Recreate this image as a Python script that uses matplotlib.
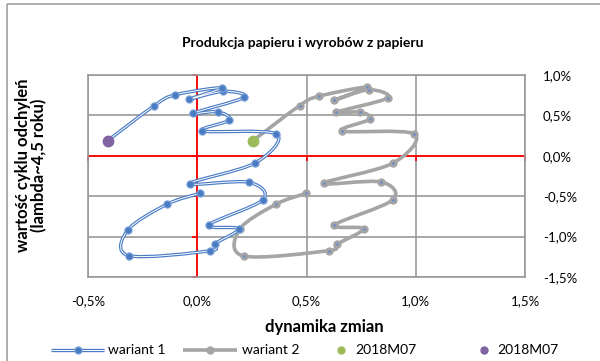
import numpy as np
import matplotlib
matplotlib.use("Agg")
import matplotlib.pyplot as plt
from matplotlib.path import Path
from matplotlib.patches import PathPatch, Rectangle

plt.rcParams['font.family'] = ['Lato', 'DejaVu Sans']

# ---- data (values in %) ----
w1_x = [0.014, -0.139, -0.319, -0.313, 0.057, 0.080, 0.189, 0.052, 0.301, 0.235, -0.035, 0.265,
        0.362, 0.024, 0.147, 0.093, -0.020, 0.215, 0.120, -0.037, 0.113, -0.101, -0.197, -0.410]
w1_y = [-0.464, -0.600, -0.922, -1.236, -1.176, -1.089, -0.903, -0.856, -0.543, -0.327, -0.344, -0.089,
        0.270, 0.307, 0.443, 0.546, 0.526, 0.724, 0.798, 0.699, 0.843, 0.755, 0.620, 0.187]
w2_x = [0.499, 0.360, 0.194, 0.212, 0.601, 0.639, 0.761, 0.628, 0.894, 0.842, 0.578, 0.894,
        0.993, 0.662, 0.789, 0.746, 0.635, 0.871, 0.784, 0.628, 0.777, 0.555, 0.468, 0.255]
w2_y = [-0.464, -0.600, -0.910, -1.240, -1.174, -1.095, -0.902, -0.856, -0.547, -0.324, -0.340, -0.093,
        0.270, 0.307, 0.452, 0.542, 0.538, 0.715, 0.818, 0.687, 0.851, 0.736, 0.620, 0.187]
last2_x, last2_y = [0.255], [0.187]   # 2018M07 (wariant 2)
last1_x, last1_y = [-0.410], [0.187]  # 2018M07 (wariant 1)
x_ticks = [-0.5, 0.0, 0.5, 1.0, 1.5]
x_labels = ["-0,5%", "0,0%", "0,5%", "1,0%", "1,5%"]
y_ticks = [-1.5, -1.0, -0.5, 0.0, 0.5, 1.0]
y_labels = ["-1,5%", "-1,0%", "-0,5%", "0,0%", "0,5%", "1,0%"]
series_names = ["wariant 1", "wariant 2", "2018M07", "2018M07"]

BLUE = '#4A7CC4'
BLUE_EDGE = '#7FA3DA'
GREY = '#A5A5A5'
GREEN = '#9BBB59'
PURPLE = '#8064A2'

def smooth_path(xs, ys):
    p = np.column_stack([xs, ys]).astype(float)
    n = len(p)
    verts = [p[0]]
    codes = [Path.MOVETO]
    for i in range(n - 1):
        p0 = p[i - 1] if i > 0 else p[i]
        p1 = p[i]
        p2 = p[i + 1]
        p3 = p[i + 2] if i + 2 < n else p[i + 1]
        c1 = p1 + (p2 - p0) / 6.0
        c2 = p2 - (p3 - p1) / 6.0
        verts += [c1, c2, p2]
        codes += [Path.CURVE4] * 3
    return Path(verts, codes)

fig = plt.figure(figsize=(6.0, 3.61), dpi=100)
ax = fig.add_axes([88/600, (361-277)/361, 437/600, 202/361])
ax.set_xlim(-0.5, 1.5)
ax.set_ylim(-1.5, 1.0)

ax.set_xticks(x_ticks)
ax.set_xticklabels(x_labels)
ax.set_yticks(y_ticks)
ax.set_yticklabels(y_labels)
ax.yaxis.tick_right()
ax.tick_params(axis='both', length=0, labelsize=9.5, colors='black')
ax.tick_params(axis='x', pad=13)
ax.tick_params(axis='y', pad=13)
ax.grid(True, color='#9A9A9A', linewidth=1.2)
ax.set_axisbelow(True)
for s in ax.spines.values():
    s.set_color('#9A9A9A')
    s.set_linewidth(1.2)

# red axes at zero
ax.axhline(0, color='#FF0000', linewidth=1.3, zorder=1.5)
ax.axvline(0, color='#FF0000', linewidth=1.3, zorder=1.5)
ax.plot(x_ticks, [0]*len(x_ticks), linestyle='none', marker=3, color='#FF0000',
        markersize=3.5, mew=1.3, zorder=1.5, clip_on=False)
ax.plot([0]*len(y_ticks), y_ticks, linestyle='none', marker=0, color='#FF0000',
        markersize=3.5, mew=1.3, zorder=1.5, clip_on=False)

# wariant 2 (grey)
ax.add_patch(PathPatch(smooth_path(w2_x, w2_y), fill=False, edgecolor=GREY,
                       linewidth=2.6, zorder=3, capstyle='round', joinstyle='round'))
ax.plot(w2_x, w2_y, linestyle='none', marker='o', markersize=5, color=GREY, zorder=3.1)
ax.plot(w2_x, w2_y, linestyle='none', marker='o', markersize=1.0, color='#6C8EC8', zorder=3.2)

# wariant 1 (blue double line)
ax.add_patch(PathPatch(smooth_path(w1_x, w1_y), fill=False, edgecolor=BLUE,
                       linewidth=2.4, zorder=4))
ax.add_patch(PathPatch(smooth_path(w1_x, w1_y), fill=False, edgecolor='white',
                       linewidth=0.7, zorder=4.1))
ax.plot(w1_x, w1_y, linestyle='none', marker='o', markersize=5.2, markerfacecolor=BLUE,
        markeredgecolor=BLUE_EDGE, markeredgewidth=0.8, zorder=4.2)

# last points
ax.plot(last2_x, last2_y, linestyle='none', marker='o', markersize=7.5, color=GREEN, zorder=5)
ax.plot(last1_x, last1_y, linestyle='none', marker='o', markersize=7.5, color=PURPLE, zorder=5)

# overlay in pixel coordinates for frame, titles and legend
ov = fig.add_axes([0, 0, 1, 1], zorder=10)
ov.set_xlim(0, 600)
ov.set_ylim(361, 0)
ov.axis('off')
ov.patch.set_alpha(0)
ov.add_patch(Rectangle((7, 4), 620, 400, fill=False, edgecolor='#A0A0A0', linewidth=1.2))

ov.text(303, 43, "Produkcja papieru i wyrobów z papieru", ha='center', va='center',
        fontsize=10, fontweight='bold')
ov.text(324, 327, "dynamika zmian", ha='center', va='center',
        fontsize=12, fontweight='bold')
ov.text(31, 165, "wartość cyklu odchyleń\n(lambda~4,5 roku)", ha='center', va='center',
        rotation=90, fontsize=12, fontweight='bold', multialignment='center', linespacing=1.05)

# legend
ly = 350
ov.plot([51, 104], [ly, ly], color=BLUE, linewidth=2.4, solid_capstyle='butt')
ov.plot([51, 104], [ly, ly], color='white', linewidth=0.7, solid_capstyle='butt')
ov.plot([77.5], [ly], marker='o', markersize=5.2, markerfacecolor=BLUE,
        markeredgecolor=BLUE_EDGE, markeredgewidth=0.8, linestyle='none')
ov.text(108, ly, series_names[0], ha='left', va='center', fontsize=10)
ov.plot([183, 237], [ly, ly], color=GREY, linewidth=2.6, solid_capstyle='butt')
ov.plot([210], [ly], marker='o', markersize=5, color=GREY, linestyle='none')
ov.text(242, ly, series_names[1], ha='left', va='center', fontsize=10)
ov.plot([341], [ly], marker='o', markersize=5, color=GREEN, linestyle='none')
ov.text(355, ly, series_names[2], ha='left', va='center', fontsize=10)
ov.plot([484], [ly], marker='o', markersize=5, color=PURPLE, linestyle='none')
ov.text(497, ly, series_names[3], ha='left', va='center', fontsize=10)

fig.savefig("out.png", dpi=100)
